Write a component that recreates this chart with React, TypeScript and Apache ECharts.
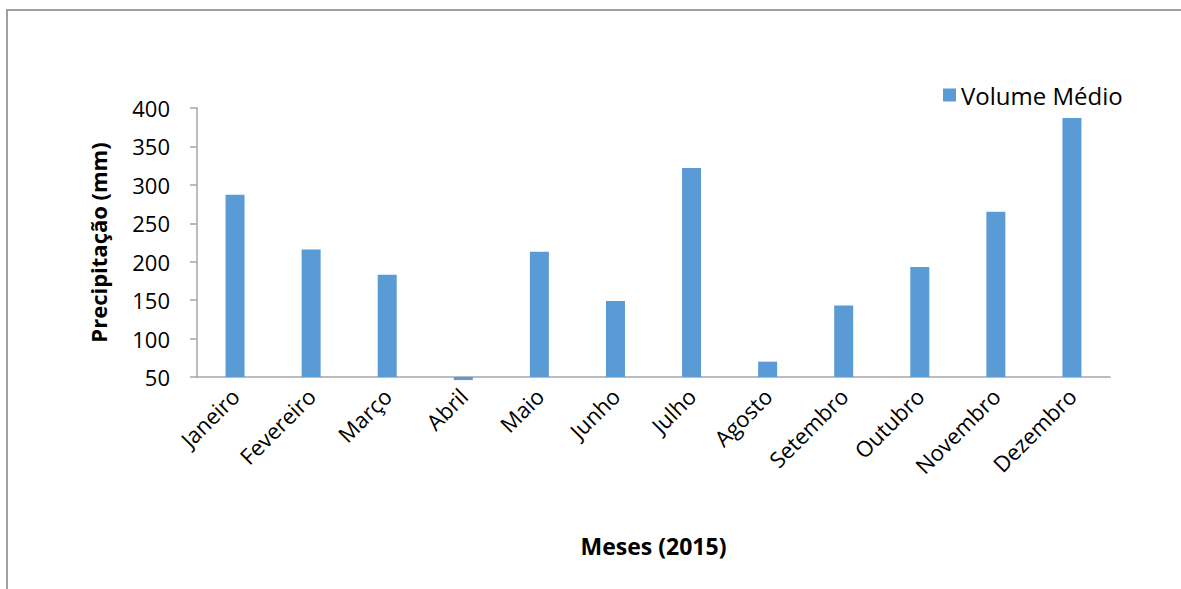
import React, { useEffect, useRef } from "react";
import * as echarts from "echarts";

const months = [
  "Janeiro", "Fevereiro", "Março", "Abril", "Maio", "Junho",
  "Julho", "Agosto", "Setembro", "Outubro", "Novembro", "Dezembro",
];
const volumeMedio = [287, 216, 183, 46, 213, 149, 322, 70, 143, 193, 265, 387];
const seriesName = "Volume Médio";
const yTitle = "Precipitação (mm)";
const xTitle = "Meses (2015)";

const FONT = "'Open Sans', 'Noto Sans', sans-serif";

export default function App() {
  const ref = useRef<HTMLDivElement>(null);

  useEffect(() => {
    document.body.style.margin = "0";
    const chart = echarts.init(ref.current!, null, { renderer: "svg" });
    chart.setOption({
      animation: false,
      backgroundColor: "#ffffff",
      textStyle: { fontFamily: FONT },
      graphic: [
        {
          type: "polyline",
          shape: { points: [[7, 600], [7, 10], [1190, 10]] },
          style: { stroke: "#a0a0a0", lineWidth: 2, fill: "none" },
          silent: true,
        },
      ],
      legend: {
        data: [seriesName],
        left: 938,
        top: 78,
        icon: "rect",
        itemWidth: 13,
        itemHeight: 13,
        itemGap: 6,
        textStyle: { fontFamily: FONT, fontSize: 24, color: "#000" },
      },
      grid: { left: 197, right: 71, top: 108, bottom: 212, containLabel: false },
      xAxis: {
        type: "category",
        data: months,
        name: xTitle,
        nameLocation: "middle",
        nameGap: 157,
        nameTextStyle: { fontFamily: FONT, fontSize: 23, fontWeight: "bold", color: "#000" },
        axisLine: { lineStyle: { color: "#a6a6a6", width: 1.5 } },
        axisTick: { show: false },
        axisLabel: {
          rotate: 45,
          interval: 0,
          margin: 15,
          fontFamily: FONT,
          fontSize: 22,
          color: "#000",
        },
      },
      yAxis: {
        type: "value",
        min: 50,
        max: 400,
        interval: 50,
        startValue: 50,
        name: yTitle,
        nameLocation: "middle",
        nameRotate: 90,
        nameGap: 88,
        nameTextStyle: { fontFamily: FONT, fontSize: 22, fontWeight: "bold", color: "#000" },
        axisLine: { show: true, lineStyle: { color: "#a6a6a6", width: 1.5 } },
        axisTick: { show: true, length: 7, lineStyle: { color: "#a6a6a6", width: 1.5 } },
        splitLine: { show: false },
        axisLabel: { margin: 27, fontFamily: FONT, fontSize: 22, color: "#000" },
      },
      series: [
        {
          name: seriesName,
          type: "bar",
          data: volumeMedio,
          barWidth: 19,
          clip: false,
          itemStyle: { color: "#5b9bd5" },
        },
      ],
    });
    return () => chart.dispose();
  }, []);

  return <div ref={ref} style={{ width: 1181, height: 589 }} />;
}
